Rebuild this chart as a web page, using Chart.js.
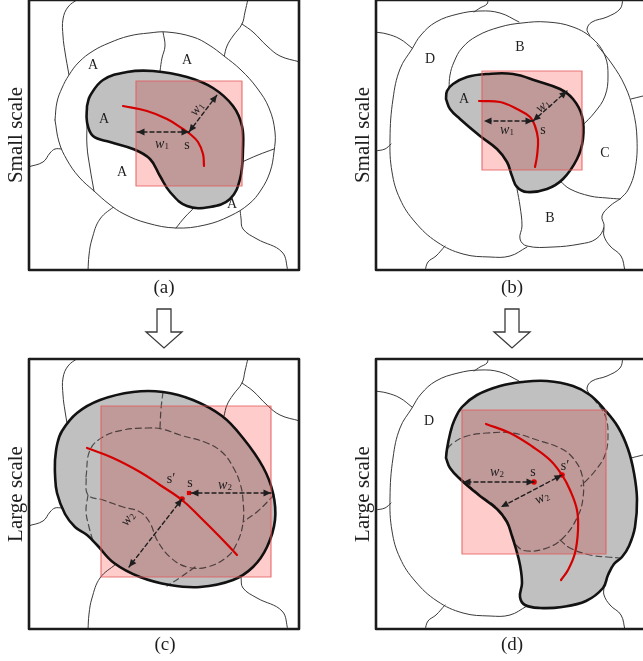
<!DOCTYPE html>
<html>
<head>
<meta charset="utf-8">
<script src="https://cdn.jsdelivr.net/npm/chart.js@4.4.1/dist/chart.umd.min.js"></script>
<style>
  html, body { margin: 0; padding: 0; background: #fff; overflow: hidden; width: 643px; height: 661px; }
  #page { position: relative; width: 643px; height: 661px; overflow: hidden;
          font-family: "Liberation Serif", "DejaVu Serif", serif; color: #1e1e1e; }
  canvas.panel { position: absolute; width: 282px; height: 282px; }
  .side { position: absolute; font-size: 21px; line-height: 1; white-space: nowrap;
          transform: translate(-50%, -50%) rotate(-90deg); }
  .cap { position: absolute; font-size: 19px; line-height: 1; white-space: nowrap;
         transform: translate(-50%, -50%); }
  svg.steps { position: absolute; left: 0; top: 0; }
</style>
</head>
<body>
<div id="page">
  <svg class="steps" width="643" height="661">
    <polygon points="157,309 171,309 171,332 182,332 164,348 146,332 157,332" fill="#fff" stroke="#3a3a3a" stroke-width="1.3"/>
    <polygon points="505,309 519,309 519,332 530,332 512,348 494,332 505,332" fill="#fff" stroke="#3a3a3a" stroke-width="1.3"/>
  </svg>
  <canvas id="pa" class="panel" width="282" height="282" style="left:23px;top:-6px"></canvas>
  <canvas id="pb" class="panel" width="282" height="282" style="left:370px;top:-6px"></canvas>
  <canvas id="pc" class="panel" width="282" height="282" style="left:23px;top:353px"></canvas>
  <canvas id="pd" class="panel" width="282" height="282" style="left:370px;top:353px"></canvas>
  <div class="side" style="left:15px;top:135px">Small scale</div>
  <div class="side" style="left:362px;top:135px">Small scale</div>
  <div class="side" style="left:15px;top:494px">Large scale</div>
  <div class="side" style="left:362px;top:494px">Large scale</div>
  <div class="cap" style="left:164px;top:286px">(a)</div>
  <div class="cap" style="left:512px;top:286px">(b)</div>
  <div class="cap" style="left:165px;top:643px">(c)</div>
  <div class="cap" style="left:512px;top:643px">(d)</div>
</div>
<script>
// Every panel uses its own 0..270 coordinate frame (x to the right, y downwards).
const frame = [[0,0],[270,0],[270,270],[0,270],[0,0]];

// ---- left column: one region growing from small scale (a) to large scale (c) ----
const edgeTopLeft     = [[49,-1],[39,7],[34,19],[34,36],[36,52],[40,75]];
const edgeTopRight    = [[219,-1],[216,12],[213,24],[204,36],[198,46],[195,57]];
const edgeRight       = [[213,24],[224,32],[238,46],[251,56],[271,62]];
const edgeLeft        = [[-1,167],[14,162],[21,153],[26,149],[33,149]];
const edgeBottomLeft  = [[87,205],[71,219],[63,239],[60,255],[59,271]];
const edgeBottomRight = [[211,209],[212,218],[214,229],[228,239],[253,252],[259,271]];

const ringA = [[26,120],[28,102],[33,88],[40,75],[50,62],[64,51],[80,43],[100,36],[120,33],[138,32],[164,37],[180,45],
  [195,56],[212,70],[228,88],[240,108],[246,132],[245,152],[241,172],[232,190],[220,204],[201,216],[176,225],[147,228],
  [118,223],[95,214],[80,204],[65,191],[50,177],[38,160],[30,142],[26,120]];
const innerTopA    = [[134,32],[136,46],[133,58],[131,71]];
const innerLeftA   = [[58,124],[58,146],[61,168],[65,191]];
const innerBottomA = [[166,207],[156,217],[147,228]];
const innerRightA  = [[213,162],[229,155],[245,149]];
const kidneyA = [[58,106],[61,96],[74,80],[98,72],[124,71],[158,77],[184,88],[204,106],[213,126],[214,149],[211,179],
  [201,199],[181,207],[158,206],[141,192],[131,176],[121,159],[104,149],[81,142],[64,136],[58,122],[58,106]];
const windowA = [[107,81],[213,81],[213,186],[107,186],[107,81]];
const skeletonA = [[94,106],[118,111],[138,119],[154,129],[161,134],[169,142],[174,154],[175,166]];
const widthHorizA = [[160,132],[108,132]];
const widthDiagA  = [[160,132],[188,95]];

const mergedC = [[26,101],[28,86],[33,72],[48,54],[71,41],[104,33],[134,33],[164,41],[193,57],[214,79],[234,108],
  [244,134],[246,161],[238,188],[224,208],[204,221],[171,228],[141,226],[111,218],[85,204],[68,186],[58,176],[46,168],
  [36,155],[28,134],[26,115],[26,101]];
const oldKidneyC = [[57,118],[61,91],[74,78],[94,71],[118,69],[133,70],[151,76],[178,84],[194,94],[204,108],[211,124],
  [214,141],[214,164],[208,184],[198,198],[178,208],[158,208],[141,198],[128,181],[121,164],[111,153],[94,148],[74,141],
  [59,136],[57,118]];
const oldTopC    = [[134,33],[132,50],[131,69]];
const oldLeftC   = [[59,136],[57,152],[60,168],[64,182]];
const oldRightC  = [[245,136],[229,152],[214,163]];
const oldBottomC = [[166,208],[152,218],[138,227]];
const windowC = [[72,47],[242,47],[242,218],[72,218],[72,47]];
const skeletonC = [[58,89],[84,99],[111,113],[131,126],[153,141],[171,158],[191,178],[208,196]];
const seedC = [[160,134]];
const footC = [[153,140]];
const widthHorizC = [[162,134],[242,134]];
const widthDiagC  = [[153,140],[100,208]];

// ---- right column: region A absorbing B and C at large scale ----
const edgeTopLeftB   = [[-1,32],[11,34],[24,39],[36,48]];
const edgeLeftB      = [[-1,151],[9,149],[15,144]];
const edgeBottomLB   = [[69,246],[60,256],[52,262],[49,271]];
const edgeTopB       = [[112,-1],[111,4],[104,8],[98,12]];
const edgeTopRightB  = [[247,-1],[244,9],[231,17],[216,22],[211,29],[214,36]];
const edgeRightB     = [[255,99],[263,97],[271,95]];
const edgeBottomRB   = [[228,228],[228,236],[234,246],[245,256],[249,271]];
const regionD = [[143,22],[124,13],[104,11],[82,14],[60,22],[45,35],[36,49],[24,69],[17,99],[14,139],[16,172],[24,199],
  [39,222],[61,242],[87,254],[114,257],[134,256],[151,247]];
const arcB = [[73,88],[74,75],[78,62],[86,48],[101,36],[124,27],[146,23],[171,22],[197,27],[217,39],[229,56],[232,76],
  [229,96],[219,112],[205,127]];
const arcBInner = [[217,39],[229,56],[232,76],[229,96],[219,112],[205,127]];
const outerC  = [[221,45],[236,64],[249,86],[257,110],[261,139],[259,170],[252,190],[244,199]];
const lowerC  = [[184,181],[194,189],[214,196],[231,198],[244,199]];
const lowerB  = [[141,189],[144,206],[146,226],[144,239],[151,246],[177,247],[204,244],[220,239],[228,227],[226,216],
  [234,206],[244,199]];
const kidneyB = [[70,99],[71,91],[77,84],[91,77],[111,74],[137,74],[161,81],[184,89],[197,99],[206,116],[207,139],
  [201,159],[187,179],[171,189],[151,192],[141,187],[136,176],[131,162],[121,149],[104,136],[84,119],[74,109],[70,99]];
const windowB = [[106,71],[206,71],[206,170],[106,170],[106,71]];
const skeletonB = [[103,101],[124,102],[141,109],[154,117],[159,126],[162,139],[161,156],[159,167]];
const widthHorizB = [[157,121],[108,121]];
const widthDiagB  = [[157,121],[191,91]];

const mergedD = [[70,99],[71,90],[74,75],[78,62],[86,48],[101,36],[124,27],[146,23],[171,22],[197,27],[214,36],[228,50],
  [242,68],[252,90],[258,114],[261,140],[259,168],[253,187],[246,198],[238,205],[232,216],[227,229],[210,242],[186,248],
  [164,249],[149,246],[144,238],[146,224],[144,206],[140,190],[136,177],[131,163],[121,150],[104,137],[84,120],[74,109],
  [70,99]];
const windowD = [[86,51],[230,51],[230,195],[86,195],[86,51]];
const skeletonD = [[110,65],[134,74],[157,88],[174,101],[186,116],[194,131],[201,151],[202,171],[199,194],[192,211],[185,221]];
const seedD = [[158,123]];
const footD = [[186,116]];
const widthHorizD = [[158,123],[87,123]];
const widthDiagD  = [[186,116],[125,148]];

// ---- label anchors ----
const notesA = [
  {text:'A', at:[64,65]}, {text:'A', at:[158,60]}, {text:'A', at:[75,119]}, {text:'A', at:[93,172]}, {text:'A', at:[203,204]},
  {text:'s', at:[158,145]}, {text:'w', sub:'1', at:[133,144]}, {text:'w', sub:'1', at:[168,109], rot:-53}];
const notesB = [
  {text:'D', at:[54,59]}, {text:'B', at:[144,47]}, {text:'A', at:[88,99]}, {text:'C', at:[229,153]}, {text:'B', at:[174,218]},
  {text:'s', at:[167,130]}, {text:'w', sub:'1', at:[131,130]}, {text:'w', sub:'1', at:[167,106], rot:-40}];
const notesC = [
  {text:'s', at:[161,124]}, {text:'s\u2032', at:[142,120]}, {text:'w', sub:'2', at:[196,126]}, {text:'w', sub:'2', at:[99,160], rot:-55}];
const notesD = [
  {text:'D', at:[53,62]}, {text:'s', at:[157,113]}, {text:'s\u2032', at:[189,107]}, {text:'w', sub:'2', at:[121,113]},
  {text:'w', sub:'2', at:[166,139], rot:-28}];

// ---- dataset styles ----
const thin   = (data) => ({data, borderColor:'#3a3a3a', borderWidth:1, fill:false, order:30});
const dashed = (data) => ({data, borderColor:'#4d4d4d', borderWidth:1.2, borderDash:[6,4], fill:false, order:20});
const bold   = (data) => ({data, borderColor:'#121212', borderWidth:2.6, fill:false, order:15});
const shade  = (data, color, order) => ({data, borderColor:'rgba(0,0,0,0)', borderWidth:0, backgroundColor:color, fill:'shape', order});
const windowBox = (data) => ({data, tension:0, borderColor:'rgba(228,90,90,0.8)', borderWidth:1.2, fill:false, overlay:'#ffcccc', order:10});
const skeleton  = (data) => ({data, borderColor:'#d40000', borderWidth:2.2, fill:false, order:8});
const marker    = (data, style) => ({data, showLine:false, pointRadius:style === 'rect' ? 3 : 2.8, pointStyle:style,
  pointBackgroundColor:'#e00000', pointBorderWidth:0, order:7});
const arrow     = (data) => ({data, tension:0, borderColor:'#1e1e1e', borderWidth:1.4, borderDash:[4,3], fill:false, arrow:true, order:6});
const border    = () => ({data:frame, tension:0, borderColor:'#1c1c1c', borderWidth:2.6, fill:false, clip:false, order:1});

// ---- drawing helpers ----
const paper = {
  id: 'paper',
  beforeDraw(chart) {
    const c = chart.ctx;
    c.save(); c.fillStyle = '#fff'; c.fillRect(0, 0, chart.width, chart.height); c.restore();
  }
};

// translucent window, multiplied onto what lies beneath it
const overlayFill = {
  id: 'overlayFill',
  beforeDatasetDraw(chart, args) {
    const ds = chart.data.datasets[args.index];
    if (!ds.overlay) return;
    const c = chart.ctx, pts = args.meta.data;
    c.save();
    c.globalCompositeOperation = 'multiply';
    c.fillStyle = ds.overlay;
    c.beginPath();
    pts.forEach((p, i) => i ? c.lineTo(p.x, p.y) : c.moveTo(p.x, p.y));
    c.closePath();
    c.fill();
    c.restore();
  }
};

// solid heads at both ends of the width arrows
const arrowHeads = {
  id: 'arrowHeads',
  afterDatasetDraw(chart, args) {
    const ds = chart.data.datasets[args.index];
    if (!ds.arrow) return;
    const c = chart.ctx, pts = args.meta.data;
    const head = (tip, from) => {
      const a = Math.atan2(tip.y - from.y, tip.x - from.x);
      c.save();
      c.translate(tip.x, tip.y); c.rotate(a);
      c.beginPath(); c.moveTo(0, 0); c.lineTo(-7.5, 3.4); c.lineTo(-7.5, -3.4); c.closePath();
      c.fillStyle = ds.borderColor; c.fill();
      c.restore();
    };
    head(pts[pts.length - 1], pts[pts.length - 2]);
    head(pts[0], pts[1]);
  }
};

function notesPlugin(items) {
  return {
    id: 'notes',
    afterDatasetsDraw(chart) {
      const c = chart.ctx, sx = chart.scales.x, sy = chart.scales.y;
      const serif = '"Liberation Serif", "DejaVu Serif", serif';
      c.save();
      c.fillStyle = '#1e1e1e';
      c.textBaseline = 'middle';
      for (const n of items) {
        c.save();
        c.translate(sx.getPixelForValue(n.at[0]), sy.getPixelForValue(n.at[1]));
        if (n.rot) c.rotate(n.rot * Math.PI / 180);
        if (n.sub) {
          c.font = 'italic 14px ' + serif;
          const w1 = c.measureText(n.text).width;
          c.font = '9px ' + serif;
          const w2 = c.measureText(n.sub).width;
          const left = -(w1 + w2) / 2;
          c.textAlign = 'left';
          c.font = 'italic 14px ' + serif;
          c.fillText(n.text, left, 0);
          c.font = '9px ' + serif;
          c.fillText(n.sub, left + w1, 3);
        } else {
          c.textAlign = 'center';
          c.font = '14px ' + serif;
          c.fillText(n.text, 0, 0);
        }
        c.restore();
      }
      c.restore();
    }
  };
}

function panel(id, datasets, notes) {
  return new Chart(document.getElementById(id), {
    type: 'line',
    data: { datasets },
    options: {
      responsive: false,
      animation: false,
      events: [],
      layout: { padding: 6 },
      scales: {
        x: { type: 'linear', min: 0, max: 270, display: false },
        y: { type: 'linear', min: 0, max: 270, reverse: true, display: false }
      },
      elements: {
        point: { radius: 0, hoverRadius: 0 },
        line: { tension: 0.4, borderCapStyle: 'round', borderJoinStyle: 'round' }
      },
      plugins: { legend: { display: false }, tooltip: { enabled: false } }
    },
    plugins: [paper, overlayFill, arrowHeads, notesPlugin(notes)]
  });
}

const GRAY = '#c0c0c0';

// (a) small scale, region A
panel('pa', [
  thin(edgeTopLeft), thin(edgeTopRight), thin(edgeRight), thin(edgeLeft), thin(edgeBottomLeft), thin(edgeBottomRight),
  Object.assign(thin(ringA), {backgroundColor:'#fff', fill:'shape', order:25}),
  Object.assign(thin(innerTopA), {order:22}), Object.assign(thin(innerLeftA), {order:22}),
  Object.assign(thin(innerBottomA), {order:22}), Object.assign(thin(innerRightA), {order:22}),
  Object.assign(bold(kidneyA), {backgroundColor:GRAY, fill:'shape'}),
  windowBox(windowA), skeleton(skeletonA),
  arrow(widthHorizA), arrow(widthDiagA), border()
], notesA);

// (b) small scale, regions A-D
panel('pb', [
  thin(edgeTopLeftB), thin(edgeLeftB), thin(edgeBottomLB), thin(edgeTopB), thin(edgeTopRightB), thin(edgeRightB),
  thin(edgeBottomRB), thin(regionD), thin(arcB), thin(outerC), thin(lowerC), thin(lowerB),
  Object.assign(bold(kidneyB), {backgroundColor:GRAY, fill:'shape'}),
  windowBox(windowB), skeleton(skeletonB),
  arrow(widthHorizB), arrow(widthDiagB), border()
], notesB);

// (c) large scale, merged region
panel('pc', [
  thin(edgeTopLeft), thin(edgeTopRight), thin(edgeRight), thin(edgeLeft), thin(edgeBottomLeft), thin(edgeBottomRight),
  shade(mergedC, GRAY, 25),
  dashed(oldKidneyC), dashed(oldTopC), dashed(oldLeftC), dashed(oldRightC), dashed(oldBottomC),
  bold(mergedC),
  windowBox(windowC), skeleton(skeletonC),
  marker(seedC, 'rect'), marker(footC, 'circle'),
  arrow(widthHorizC), arrow(widthDiagC), border()
], notesC);

// (d) large scale, merged region
panel('pd', [
  thin(edgeTopLeftB), thin(edgeLeftB), thin(edgeBottomLB), thin(edgeTopB), thin(edgeTopRightB), thin(edgeRightB),
  thin(edgeBottomRB), thin(regionD),
  shade(mergedD, GRAY, 25),
  dashed(kidneyB), dashed(arcBInner), dashed(lowerC),
  bold(mergedD),
  windowBox(windowD), skeleton(skeletonD),
  marker(seedD, 'circle'), marker(footD, 'circle'),
  arrow(widthHorizD), arrow(widthDiagD), border()
], notesD);
</script>
</body>
</html>
